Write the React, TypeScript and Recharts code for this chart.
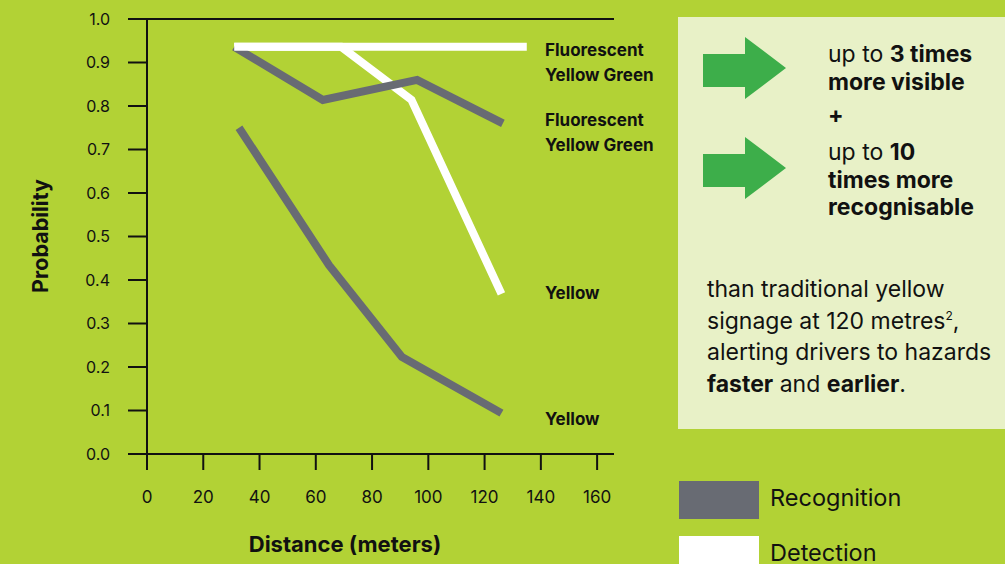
import { LineChart, Line, XAxis, YAxis, ReferenceLine, Legend } from 'recharts';

// distances (m) and probabilities
const fygDetectionDist = [31, 135];
const fygDetectionProb = [0.936, 0.936];
const yellowDetectionDist = [31, 69, 94, 126];
const yellowDetectionProb = [0.936, 0.936, 0.814, 0.368];
const fygRecognitionDist = [31, 62.5, 96, 126.5];
const fygRecognitionProb = [0.936, 0.814, 0.86, 0.76];
const yellowRecognitionDist = [32.7, 64.7, 90.6, 126];
const yellowRecognitionProb = [0.75, 0.434, 0.223, 0.094];

const xTicks = [0, 20, 40, 60, 80, 100, 120, 140, 160];
const yTicks = [0, 0.1, 0.2, 0.3, 0.4, 0.5, 0.6, 0.7, 0.8, 0.9, 1.0];
const legendOrder = ['Recognition', 'Detection'];

const seriesLabels = {
  fygDet: ['Fluorescent', 'Yellow Green'],
  fygRec: ['Fluorescent', 'Yellow Green'],
  yelDet: ['Yellow'],
  yelRec: ['Yellow'],
};

const toRows = (xs: number[], ys: number[]) => xs.map((x, i) => ({ x, y: ys[i] }));

const BG = '#b2d235';
const PANEL = '#e8f1c7';
const GREY = '#686b73';
const INK = '#111';
const FONT = 'Inter, "Open Sans", sans-serif';

function endLabel(lines: string[], count: number, shift: number) {
  return (props: any) => {
    if (props.index !== count - 1) return null;
    return (
      <text x={545} y={props.y + shift} fontSize={17} fontWeight={700} fill={INK} fontFamily={FONT}>
        {lines.map((t, i) => (
          <tspan key={i} x={545} dy={i === 0 ? 6 : 25}>{t}</tspan>
        ))}
      </text>
    );
  };
}

function renderLegend(props: any) {
  const items = (props.payload || [])
    .filter((p: any) => legendOrder.includes(p.value))
    .sort((a: any, b: any) => legendOrder.indexOf(a.value) - legendOrder.indexOf(b.value));
  return (
    <div style={{ fontFamily: FONT }}>
      {items.map((p: any) => (
        <div key={p.value} style={{ display: 'flex', alignItems: 'center', height: 38, marginBottom: 17 }}>
          <div style={{ width: 80, height: 38, background: p.color }} />
          <span style={{ marginLeft: 11, fontSize: 23.5, lineHeight: '26px', color: INK, position: 'relative', top: -2 }}>{p.value}</span>
        </div>
      ))}
    </div>
  );
}

function Arrow({ top }: { top: number }) {
  return (
    <svg width={90} height={64} style={{ position: 'absolute', left: 700, top }}>
      <polygon points="3,17 45,17 45,0 86,31 45,62 45,50 3,50" fill="#3dae4a" />
    </svg>
  );
}

export default function App() {
  return (
    <div style={{ position: 'absolute', left: 0, top: 0, width: 1005, height: 564, background: BG, overflow: 'hidden', fontFamily: FONT }}>
      <div style={{ position: 'absolute', left: 678, top: 17, width: 327, height: 412, background: PANEL }} />
      <Arrow top={37} />
      <Arrow top={137} />
      <div style={{ position: 'absolute', left: 828, top: 41, fontSize: 23, lineHeight: '27.5px', color: INK, whiteSpace: 'nowrap' }}>
        <div>up to <b>3 times</b></div>
        <div><b>more visible</b></div>
        <div style={{ marginTop: 6 }}><b>+</b></div>
        <div style={{ marginTop: 9.5 }}>up to <b>10</b></div>
        <div><b>times more</b></div>
        <div><b>recognisable</b></div>
      </div>
      <div style={{ position: 'absolute', left: 707, top: 274, fontSize: 23, lineHeight: '31.7px', color: INK, whiteSpace: 'nowrap' }}>
        <div>than traditional yellow</div>
        <div>signage at 120 metres<sup style={{ fontSize: 12, lineHeight: 0 }}>2</sup>,</div>
        <div>alerting drivers to hazards</div>
        <div><b>faster</b> and <b>earlier</b>.</div>
      </div>

      <LineChart width={1005} height={564} margin={{ top: 19, right: 391, bottom: 0, left: 0 }} style={{ position: 'absolute', left: 0, top: 0 }}>
        <XAxis
          type="number"
          dataKey="x"
          domain={[0, 166]}
          ticks={xTicks}
          allowDuplicatedCategory={false}
          height={110}
          tickSize={16}
          tickMargin={21}
          stroke={INK}
          strokeWidth={2}
          tick={{ fill: INK, fontSize: 17, fontFamily: FONT }}
          label={() => (
            <text x={345} y={552} textAnchor="middle" fontSize={22} fontWeight={700} fill={INK} fontFamily={FONT}>
              Distance (meters)
            </text>
          )}
        />
        <YAxis
          type="number"
          domain={[0, 1]}
          ticks={yTicks}
          width={147}
          tickSize={19}
          tickMargin={18}
          stroke={INK}
          strokeWidth={2}
          tickFormatter={(v: number) => v.toFixed(1)}
          tick={{ fill: INK, fontSize: 16, fontFamily: FONT }}
          label={() => (
            <text x={48} y={236} transform="rotate(-90, 48, 236)" textAnchor="middle" fontSize={21.5} fontWeight={700} fill={INK} fontFamily={FONT}>
              Probability
            </text>
          )}
        />
        <ReferenceLine y={1} stroke={INK} strokeWidth={2} />
        <Legend
          layout="horizontal"
          verticalAlign="middle"
          align="center"
          content={renderLegend}
          wrapperStyle={{ position: 'absolute', left: 679, top: 481, width: 320 }}
        />
        <Line
          data={toRows(yellowDetectionDist, yellowDetectionProb)}
          dataKey="y"
          name="Detection Yellow"
          stroke="#ffffff"
          strokeWidth={8}
          dot={false}
          activeDot={false}
          type="linear"
          isAnimationActive={false}
          label={endLabel(seriesLabels.yelDet, yellowDetectionDist.length, -1)}
        />
        <Line
          data={toRows(fygRecognitionDist, fygRecognitionProb)}
          dataKey="y"
          name="Recognition"
          stroke={GREY}
          strokeWidth={8}
          dot={false}
          activeDot={false}
          type="linear"
          isAnimationActive={false}
          label={endLabel(seriesLabels.fygRec, fygRecognitionDist.length, -3)}
        />
        <Line
          data={toRows(fygDetectionDist, fygDetectionProb)}
          dataKey="y"
          name="Detection"
          stroke="#ffffff"
          strokeWidth={8}
          dot={false}
          activeDot={false}
          type="linear"
          isAnimationActive={false}
          label={endLabel(seriesLabels.fygDet, fygDetectionDist.length, 3)}
        />
        <Line
          data={toRows(yellowRecognitionDist, yellowRecognitionProb)}
          dataKey="y"
          name="Recognition Yellow"
          stroke={GREY}
          strokeWidth={8}
          dot={false}
          activeDot={false}
          type="linear"
          isAnimationActive={false}
          label={endLabel(seriesLabels.yelRec, yellowRecognitionDist.length, 6)}
        />
      </LineChart>
    </div>
  );
}
